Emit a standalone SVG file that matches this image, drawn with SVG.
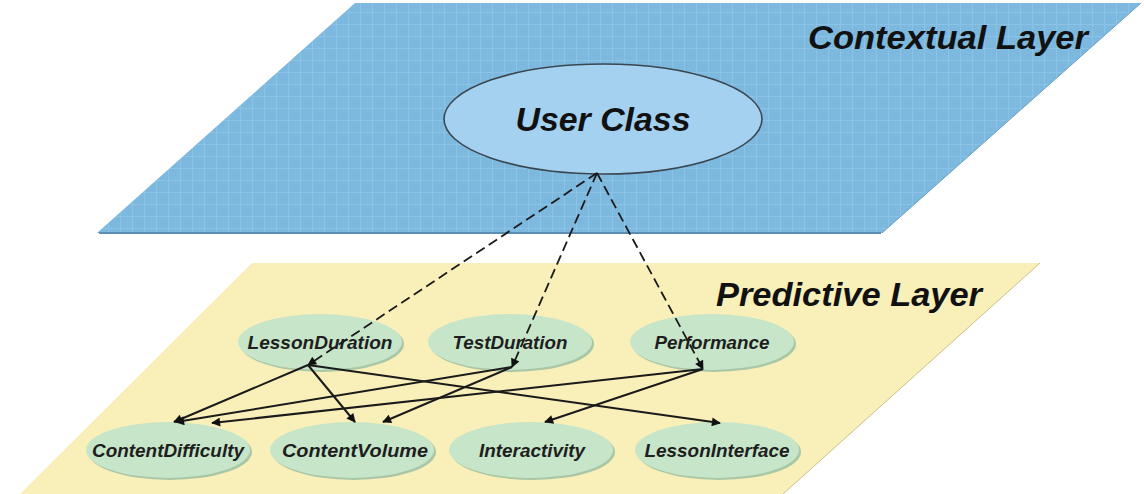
<svg xmlns="http://www.w3.org/2000/svg" width="1144" height="494" viewBox="0 0 1144 494">
<style>
.layerTitle{font-family:"Liberation Sans",Arial,sans-serif;font-weight:bold;font-style:italic;font-size:34px;fill:#111}
.nodeText{font-family:"Liberation Sans",Arial,sans-serif;font-weight:bold;font-style:italic;font-size:18px;fill:#1e1e1e}
.node{fill:#c7e5c9}
.nodeShadow{fill:#a9c7a6}
.dash{fill:none;stroke:#1a1a1a;stroke-width:1.8;stroke-dasharray:10 5}
.solid{fill:none;stroke:#1a1a1a;stroke-width:2}
</style>
<defs>
<pattern id="grid" width="12" height="12" patternUnits="userSpaceOnUse">
<rect width="12" height="12" fill="#7db8de"/>
<path d="M0 0.5H12M0.5 0V12" stroke="#8cc2e5" stroke-width="1"/>
</pattern>
<marker id="arrow" viewBox="0 0 10 10" refX="9" refY="5" markerWidth="12" markerHeight="9" markerUnits="userSpaceOnUse" orient="auto">
<path d="M0 0L10 5L0 10Z" fill="#111"/>
</marker>
</defs>
<g id="contextual-layer">
<polygon points="355,3 1141,3 882,233 97,233" fill="url(#grid)"/>
<line x1="99" y1="233" x2="881" y2="233" stroke="#5a8db3" stroke-width="2"/>
<line x1="882" y1="233" x2="1141" y2="3" stroke="#6a9fc4" stroke-width="1"/>
<text class="layerTitle" x="948" y="49" text-anchor="middle" textLength="280" lengthAdjust="spacingAndGlyphs">Contextual Layer</text>
</g>
<g id="predictive-layer">
<polygon points="252,263 1040,263 783,494 20,494" fill="#f9efb9"/>
<line x1="1040" y1="263" x2="783" y2="494" stroke="#c9c08a" stroke-width="1"/>
<text class="layerTitle" x="849" y="306" text-anchor="middle" textLength="266" lengthAdjust="spacingAndGlyphs">Predictive Layer</text>
</g>
<g id="node-user-class">
<ellipse cx="603" cy="119" rx="159" ry="55" fill="#a3d1ef" stroke="#3a4650" stroke-width="1.6"/>
<text x="603" y="131" text-anchor="middle" font-family="Liberation Sans, Arial, sans-serif" font-weight="bold" font-style="italic" font-size="34" fill="#111" textLength="175" lengthAdjust="spacingAndGlyphs">User Class</text>
</g>
<g id="node-lesson-duration">
<ellipse class="nodeShadow" cx="322" cy="344" rx="82" ry="28"/>
<ellipse class="node" cx="320" cy="342" rx="82" ry="28"/>
<text class="nodeText" x="320" y="349" text-anchor="middle" textLength="145" lengthAdjust="spacingAndGlyphs">LessonDuration</text>
</g>
<g id="node-test-duration">
<ellipse class="nodeShadow" cx="512" cy="344" rx="82" ry="28"/>
<ellipse class="node" cx="510" cy="342" rx="82" ry="28"/>
<text class="nodeText" x="510" y="349" text-anchor="middle" textLength="115" lengthAdjust="spacingAndGlyphs">TestDuration</text>
</g>
<g id="node-performance">
<ellipse class="nodeShadow" cx="714" cy="344" rx="82" ry="28"/>
<ellipse class="node" cx="712" cy="342" rx="82" ry="28"/>
<text class="nodeText" x="712" y="349" text-anchor="middle" textLength="115" lengthAdjust="spacingAndGlyphs">Performance</text>
</g>
<g id="node-content-difficulty">
<ellipse class="nodeShadow" cx="170" cy="452" rx="82" ry="28"/>
<ellipse class="node" cx="168" cy="450" rx="82" ry="28"/>
<text class="nodeText" x="168" y="457" text-anchor="middle" textLength="152" lengthAdjust="spacingAndGlyphs">ContentDifficulty</text>
</g>
<g id="node-content-volume">
<ellipse class="nodeShadow" cx="354" cy="452" rx="82" ry="28"/>
<ellipse class="node" cx="352" cy="450" rx="82" ry="28"/>
<text class="nodeText" x="355" y="457" text-anchor="middle" textLength="146" lengthAdjust="spacingAndGlyphs">ContentVolume</text>
</g>
<g id="node-interactivity">
<ellipse class="nodeShadow" cx="533" cy="452" rx="82" ry="28"/>
<ellipse class="node" cx="531" cy="450" rx="82" ry="28"/>
<text class="nodeText" x="532" y="457" text-anchor="middle" textLength="106" lengthAdjust="spacingAndGlyphs">Interactivity</text>
</g>
<g id="node-lesson-interface">
<ellipse class="nodeShadow" cx="719" cy="452" rx="82" ry="28"/>
<ellipse class="node" cx="717" cy="450" rx="82" ry="28"/>
<text class="nodeText" x="717" y="457" text-anchor="middle" textLength="145" lengthAdjust="spacingAndGlyphs">LessonInterface</text>
</g>
<g id="connectors">
<line class="dash" x1="597" y1="173" x2="308" y2="365" marker-end="url(#arrow)"/>
<line class="dash" x1="597" y1="173" x2="512" y2="367" marker-end="url(#arrow)"/>
<line class="dash" x1="597" y1="173" x2="703" y2="369" marker-end="url(#arrow)"/>
<line class="solid" x1="308" y1="365" x2="174" y2="422" marker-end="url(#arrow)"/>
<line class="solid" x1="308" y1="365" x2="355" y2="422" marker-end="url(#arrow)"/>
<line class="solid" x1="308" y1="365" x2="720" y2="423" marker-end="url(#arrow)"/>
<line class="solid" x1="512" y1="367" x2="176" y2="422" marker-end="url(#arrow)"/>
<line class="solid" x1="512" y1="367" x2="383" y2="422" marker-end="url(#arrow)"/>
<line class="solid" x1="703" y1="369" x2="212" y2="423" marker-end="url(#arrow)"/>
<line class="solid" x1="703" y1="369" x2="545" y2="422" marker-end="url(#arrow)"/>
</g>
</svg>
